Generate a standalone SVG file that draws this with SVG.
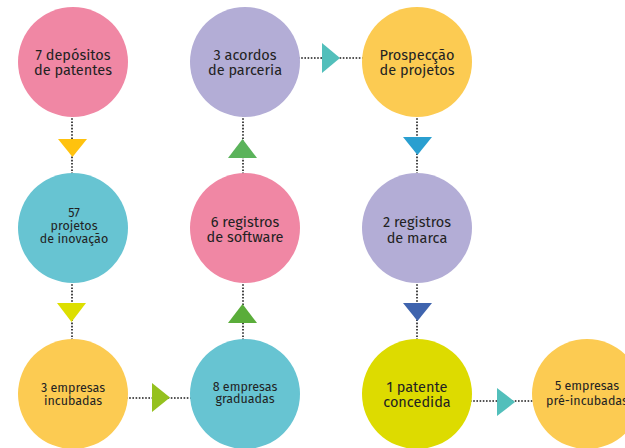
<svg xmlns="http://www.w3.org/2000/svg" width="625" height="448" viewBox="0 0 625 448">
<style>
.dot{stroke:#1a1a1a;stroke-width:1.6;stroke-dasharray:1.6 1.6;fill:none}
text{font-family:"Fira Sans","Noto Sans","Open Sans",sans-serif;fill:#222;text-anchor:middle}
.l{font-size:14.5px}
.s{font-size:12.5px}
</style>
<rect width="625" height="448" fill="#fff"/>
<g id="connectors">
<line class="dot" x1="72" y1="115" x2="72" y2="175"/>
<line class="dot" x1="243" y1="115" x2="243" y2="175"/>
<line class="dot" x1="417" y1="115" x2="417" y2="175"/>
<line class="dot" x1="72" y1="281" x2="72" y2="341"/>
<line class="dot" x1="243" y1="281" x2="243" y2="341"/>
<line class="dot" x1="417" y1="281" x2="417" y2="341"/>
<line class="dot" x1="298" y1="58" x2="364" y2="58"/>
<line class="dot" x1="126" y1="398" x2="192" y2="398"/>
<line class="dot" x1="470" y1="401" x2="534" y2="401"/>
<polygon points="58,139 87,139 72.5,157" fill="#FFC20E"/>
<polygon points="228,158 257,158 242.5,139" fill="#5BB35B"/>
<polygon points="322,43 322,73 340,58" fill="#52BFBB"/>
<polygon points="403,137 432,137 417.5,155" fill="#2A9FD0"/>
<polygon points="57,303 86,303 71.5,322" fill="#DDDF00"/>
<polygon points="228,323 257,323 242.5,304" fill="#5AAD3A"/>
<polygon points="403,303 432,303 417.5,321" fill="#3F64AE"/>
<polygon points="152,383 152,412 170,397.5" fill="#95C11F"/>
<polygon points="497,388 497,416 515,402" fill="#52BFBB"/>
</g>
<g id="n1"><circle cx="73" cy="62" r="55" fill="#F087A4"/><text class="l" x="73" y="60">7 depósitos</text><text class="l" x="73" y="75">de patentes</text></g>
<g id="n2"><circle cx="245" cy="62" r="55" fill="#B3ADD6"/><text class="l" x="245" y="60">3 acordos</text><text class="l" x="245" y="75">de parceria</text></g>
<g id="n3"><circle cx="417" cy="62" r="55" fill="#FCCB52"/><text class="l" x="417" y="60">Prospecção</text><text class="l" x="417" y="75">de projetos</text></g>
<g id="n4"><circle cx="73" cy="228" r="55" fill="#67C4D2"/><text class="s" x="74" y="217">57</text><text class="s" x="74" y="230">projetos</text><text class="s" x="74" y="243">de inovação</text></g>
<g id="n5"><circle cx="245" cy="228" r="55" fill="#F087A4"/><text class="l" x="245" y="227">6 registros</text><text class="l" x="245" y="242">de software</text></g>
<g id="n6"><circle cx="417" cy="228" r="55" fill="#B3ADD6"/><text class="l" x="417" y="227">2 registros</text><text class="l" x="417" y="243">de marca</text></g>
<g id="n7"><circle cx="73" cy="394" r="55" fill="#FCCB52"/><text class="s" x="73" y="392">3 empresas</text><text class="s" x="73" y="405">incubadas</text></g>
<g id="n8"><circle cx="245" cy="394" r="55" fill="#67C4D2"/><text class="s" x="245" y="391">8 empresas</text><text class="s" x="245" y="403">graduadas</text></g>
<g id="n9"><circle cx="417" cy="394" r="55" fill="#DDDB00"/><text class="l" x="417" y="392">1 patente</text><text class="l" x="417" y="407">concedida</text></g>
<g id="n10"><circle cx="587" cy="394" r="55" fill="#FCCB52"/><text class="s" x="587" y="390">5 empresas</text><text class="s" x="587" y="405">pré-incubadas</text></g>
</svg>
